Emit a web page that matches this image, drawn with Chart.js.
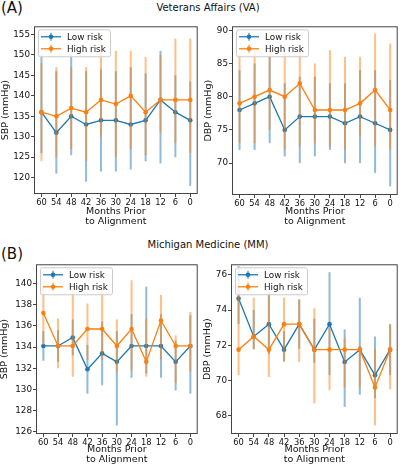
<!DOCTYPE html>
<html>
<head>
<meta charset="utf-8">
<script src="https://cdn.jsdelivr.net/npm/chart.js@4.4.1/dist/chart.umd.min.js"></script>
<style>
  body { margin: 0; background: #fff; }
  #fig { position: relative; width: 400px; height: 467px; overflow: hidden; font-family: 'DejaVu Sans', sans-serif; color: #111; }
  .panel { position: absolute; }
  .tag { position: absolute; font-size: 15px; line-height: 15px; }
  .ttl { position: absolute; font-size: 10px; line-height: 10px; width: 200px; text-align: center; }
</style>
</head>
<body>
<div id="fig">
  <div class="tag" style="left:1px; top:1px;">(A)</div>
  <div class="ttl" style="left:108px; top:3px;">Veterans Affairs (VA)</div>
  <div class="tag" style="left:1px; top:247px;">(B)</div>
  <div class="ttl" style="left:108px; top:240px;">Michigan Medicine (MM)</div>
  <div class="panel" style="left:0; top:20px; width:200px; height:212px;"><canvas id="vaSbp"></canvas></div>
  <div class="panel" style="left:200px; top:20px; width:200px; height:212px;"><canvas id="vaDbp"></canvas></div>
  <div class="panel" style="left:0; top:258px; width:200px; height:209px;"><canvas id="mmSbp"></canvas></div>
  <div class="panel" style="left:200px; top:258px; width:200px; height:209px;"><canvas id="mmDbp"></canvas></div>
</div>
<script>
const months = ['60', '54', '48', '42', '36', '30', '24', '18', '12', '6', '0'];

// VA - SBP
const vaSbpLow = [136, 131, 135, 133, 134, 134, 133, 134, 139, 136, 134];
const vaSbpLowMin = [126, 121, 125.5, 119, 121.5, 121.5, 122, 124, 123.5, 125, 118];
const vaSbpLowMax = [150, 146, 150, 146, 146.5, 146, 147, 145.5, 151, 145, 143.5];
const vaSbpHigh = [136, 135, 137, 136, 139, 138, 140, 136, 139, 139, 139];
const vaSbpHighMin = [124, 125, 127, 124, 130, 125, 127, 125.5, 131, 128.5, 126];
const vaSbpHighMax = [148, 147, 147, 147, 153, 151, 151, 149.5, 150, 154, 154];
const vaSbpTicks = [120, 125, 130, 135, 140, 145, 150, 155];

// VA - DBP
const vaDbpLow = [78, 79, 80, 75, 77, 77, 77, 76, 77, 76, 75];
const vaDbpLowMin = [72, 72, 73, 71, 70, 71, 72, 70, 70, 68.5, 66.5];
const vaDbpLowMax = [84, 85, 86, 82, 83, 83, 82, 82, 84, 84, 82.5];
const vaDbpHigh = [79, 80, 81, 80, 82, 78, 78, 78, 79, 81, 78];
const vaDbpHighMin = [73, 73, 75, 72, 72.5, 73, 72.5, 72, 74, 72.5, 72];
const vaDbpHighMax = [86.5, 87, 87, 86.5, 87, 85, 87, 86, 86, 89.5, 88];
const vaDbpTicks = [70, 75, 80, 85, 90];

// MM - SBP
const mmSbpLow = [134.1, 134.1, 134.9, 131.9, 133.4, 132.6, 134.1, 134.1, 134.1, 132.6, 134.1];
const mmSbpLowMin = [132.7, 132.6, 133.2, 129.6, 130.4, 126.6, 131.1, 131.5, 131.1, 129.9, 129.6];
const mmSbpLowMax = [135.5, 135.6, 136.6, 134.2, 136.4, 135.5, 137.1, 139.7, 137.1, 134.6, 137.0];
const mmSbpHigh = [137.2, 134.1, 134.1, 135.7, 135.7, 134.1, 135.7, 132.6, 136.5, 134.1, 134.1];
const mmSbpHighMin = [134.2, 132.0, 131.2, 132.8, 132.8, 131.6, 131.8, 131.2, 132.8, 130.6, 131.7];
const mmSbpHighMax = [140.2, 136.7, 139.2, 138.1, 139.5, 136.6, 140.3, 136.7, 138.9, 135.1, 137.3];
const mmSbpTicks = [126, 128, 130, 132, 134, 136, 138, 140];

// MM - DBP
const mmDbpLow = [74.65, 72.5, 73.2, 71.75, 73.2, 71.75, 73.2, 71.05, 71.75, 70.3, 71.75];
const mmDbpLowMin = [73.2, 71.8, 71.5, 71.1, 71.8, 71.0, 70.3, 68.5, 69.2, 69.0, 70.3];
const mmDbpLowMax = [76.5, 74.0, 75.0, 72.8, 74.6, 73.5, 76.15, 72.9, 74.7, 72.5, 73.2];
const mmDbpHigh = [71.75, 72.5, 71.75, 73.2, 73.2, 71.75, 71.75, 71.75, 71.75, 69.6, 71.75];
const mmDbpHighMin = [70.3, 71.75, 70.2, 71.05, 71.05, 68.7, 69.45, 69.6, 69.6, 67.45, 69.5];
const mmDbpHighMax = [75.2, 74.7, 74.9, 74.7, 74.6, 74.1, 73.0, 72.4, 72.0, 71.8, 73.2];
const mmDbpTicks = [68, 70, 72, 74, 76];

const BLUE = '#1f77b4';
const ORANGE = '#ff7f0e';
const FONT = 'DejaVu Sans';

// vertical error bars, drawn just before each series' line
const errorBars = {
    id: 'errorBars',
    beforeDatasetDraw(chart, args) {
        const ds = chart.data.datasets[args.index];
        if (!ds.errLo) return;
        const ctx = chart.ctx;
        const x = chart.scales.x, y = chart.scales.y;
        ctx.save();
        ctx.strokeStyle = ds.errColor;
        ctx.lineWidth = 2;
        ds.data.forEach((v, i) => {
            const px = x.getPixelForValue(i);
            ctx.beginPath();
            ctx.moveTo(px, y.getPixelForValue(ds.errLo[i]));
            ctx.lineTo(px, y.getPixelForValue(ds.errHi[i]));
            ctx.stroke();
        });
        ctx.restore();
    }
};

// box around the plot and a matplotlib-like legend in the upper left
const frameAndLegend = {
    id: 'frameAndLegend',
    afterDatasetsDraw(chart) {
        const ctx = chart.ctx;
        const a = chart.chartArea;
        ctx.save();
        ctx.strokeStyle = '#444';
        ctx.lineWidth = 1;
        ctx.strokeRect(a.left + 0.5, a.top + 0.5, a.right - a.left - 1, a.bottom - a.top - 1);

        const bx = a.left + 4, by = a.top + 3, bw = 72, bh = 27;
        ctx.fillStyle = 'rgba(255,255,255,0.8)';
        ctx.strokeStyle = '#cccccc';
        ctx.beginPath();
        ctx.roundRect(bx + 0.5, by + 0.5, bw, bh, 2);
        ctx.fill();
        ctx.stroke();

        const items = [['Low risk', BLUE, 'rgba(31,119,180,0.5)'], ['High risk', ORANGE, 'rgba(255,127,14,0.5)']];
        items.forEach((it, k) => {
            const cy = by + 7.5 + k * 12;
            const mx = bx + 13;
            ctx.strokeStyle = it[2];
            ctx.lineWidth = 2;
            ctx.beginPath();
            ctx.moveTo(mx, cy - 4);
            ctx.lineTo(mx, cy + 4);
            ctx.stroke();
            ctx.strokeStyle = it[1];
            ctx.lineWidth = 1.3;
            ctx.beginPath();
            ctx.moveTo(bx + 3, cy);
            ctx.lineTo(bx + 23, cy);
            ctx.stroke();
            ctx.fillStyle = it[1];
            ctx.beginPath();
            ctx.arc(mx, cy, 2.3, 0, Math.PI * 2);
            ctx.fill();
            ctx.fillStyle = '#111';
            ctx.font = '8.8px "' + FONT + '"';
            ctx.textBaseline = 'middle';
            ctx.textAlign = 'left';
            ctx.fillText(it[0], bx + 29, cy + 0.5);
        });
        ctx.restore();
    }
};

function makePanel(id, p) {
    const series = (label, data, lo, hi, color, err, order) => ({
        label: label,
        data: data,
        errLo: lo,
        errHi: hi,
        errColor: err,
        borderColor: color,
        backgroundColor: color,
        borderWidth: 1.3,
        pointRadius: 2.3,
        pointBorderWidth: 0,
        pointHoverRadius: 2.3,
        tension: 0,
        order: order
    });
    return new Chart(document.getElementById(id), {
        type: 'line',
        data: {
            labels: months,
            datasets: [
                series('Low risk', p.low, p.lowMin, p.lowMax, BLUE, 'rgba(31,119,180,0.5)', 2),
                series('High risk', p.high, p.highMin, p.highMax, ORANGE, 'rgba(255,127,14,0.5)', 1)
            ]
        },
        options: {
            responsive: true,
            maintainAspectRatio: false,
            animation: false,
            events: [],
            layout: { padding: { top: p.padTop, right: p.padRight, left: 0, bottom: 0 } },
            plugins: { legend: { display: false }, tooltip: { enabled: false } },
            scales: {
                x: {
                    type: 'category',
                    offset: true,
                    grid: { display: true, drawOnChartArea: false, drawTicks: true, tickLength: 3, color: '#444', offset: false },
                    border: { display: false },
                    ticks: { color: '#111', font: { family: FONT, size: 8.3 }, padding: 1, maxRotation: 0, autoSkip: false },
                    title: {
                        display: true,
                        text: ['Months Prior', 'to Alignment'],
                        color: '#111',
                        font: { family: FONT, size: 9.5, lineHeight: 1 },
                        padding: { top: 0, bottom: p.xTitlePad }
                    },
                    afterFit: (s) => { s.height = p.xHeight; }
                },
                y: {
                    min: p.min,
                    max: p.max,
                    grid: { display: true, drawOnChartArea: false, drawTicks: true, tickLength: 3, color: '#444' },
                    border: { display: false },
                    ticks: { color: '#111', font: { family: FONT, size: 8.8 }, padding: 1 },
                    title: {
                        display: true,
                        text: p.yTitle,
                        color: '#111',
                        font: { family: FONT, size: 9.5, lineHeight: 1 },
                        padding: { top: p.yTitlePad, bottom: 0 }
                    },
                    afterBuildTicks: (s) => { s.ticks = p.ticks.map(v => ({ value: v })); },
                    afterFit: (s) => { s.width = p.yWidth; }
                }
            }
        },
        plugins: [errorBars, frameAndLegend]
    });
}

makePanel('vaSbp', {
    low: vaSbpLow, lowMin: vaSbpLowMin, lowMax: vaSbpLowMax,
    high: vaSbpHigh, highMin: vaSbpHighMin, highMax: vaSbpHighMax,
    ticks: vaSbpTicks, min: 116, max: 157, yTitle: 'SBP (mmHg)',
    padTop: 5, padRight: 2, yWidth: 34, xHeight: 38, xTitlePad: 6, yTitlePad: 0.3
});
makePanel('vaDbp', {
    low: vaDbpLow, lowMin: vaDbpLowMin, lowMax: vaDbpLowMax,
    high: vaDbpHigh, highMin: vaDbpHighMin, highMax: vaDbpHighMax,
    ticks: vaDbpTicks, min: 65.2, max: 90.6, yTitle: 'DBP (mmHg)',
    padTop: 5, padRight: 2, yWidth: 32, xHeight: 37, xTitlePad: 6, yTitlePad: 4
});
makePanel('mmSbp', {
    low: mmSbpLow, lowMin: mmSbpLowMin, lowMax: mmSbpLowMax,
    high: mmSbpHigh, highMin: mmSbpHighMin, highMax: mmSbpHighMax,
    ticks: mmSbpTicks, min: 125.8, max: 141.8, yTitle: 'SBP (mmHg)',
    padTop: 6, padRight: 1, yWidth: 36, xHeight: 33, xTitlePad: 3, yTitlePad: 0
});
makePanel('mmDbp', {
    low: mmDbpLow, lowMin: mmDbpLowMin, lowMax: mmDbpLowMax,
    high: mmDbpHigh, highMin: mmDbpHighMin, highMax: mmDbpHighMax,
    ticks: mmDbpTicks, min: 66.96, max: 76.6, yTitle: 'DBP (mmHg)',
    padTop: 6, padRight: 1, yWidth: 31, xHeight: 33, xTitlePad: 3, yTitlePad: 3
});
</script>
</body>
</html>
